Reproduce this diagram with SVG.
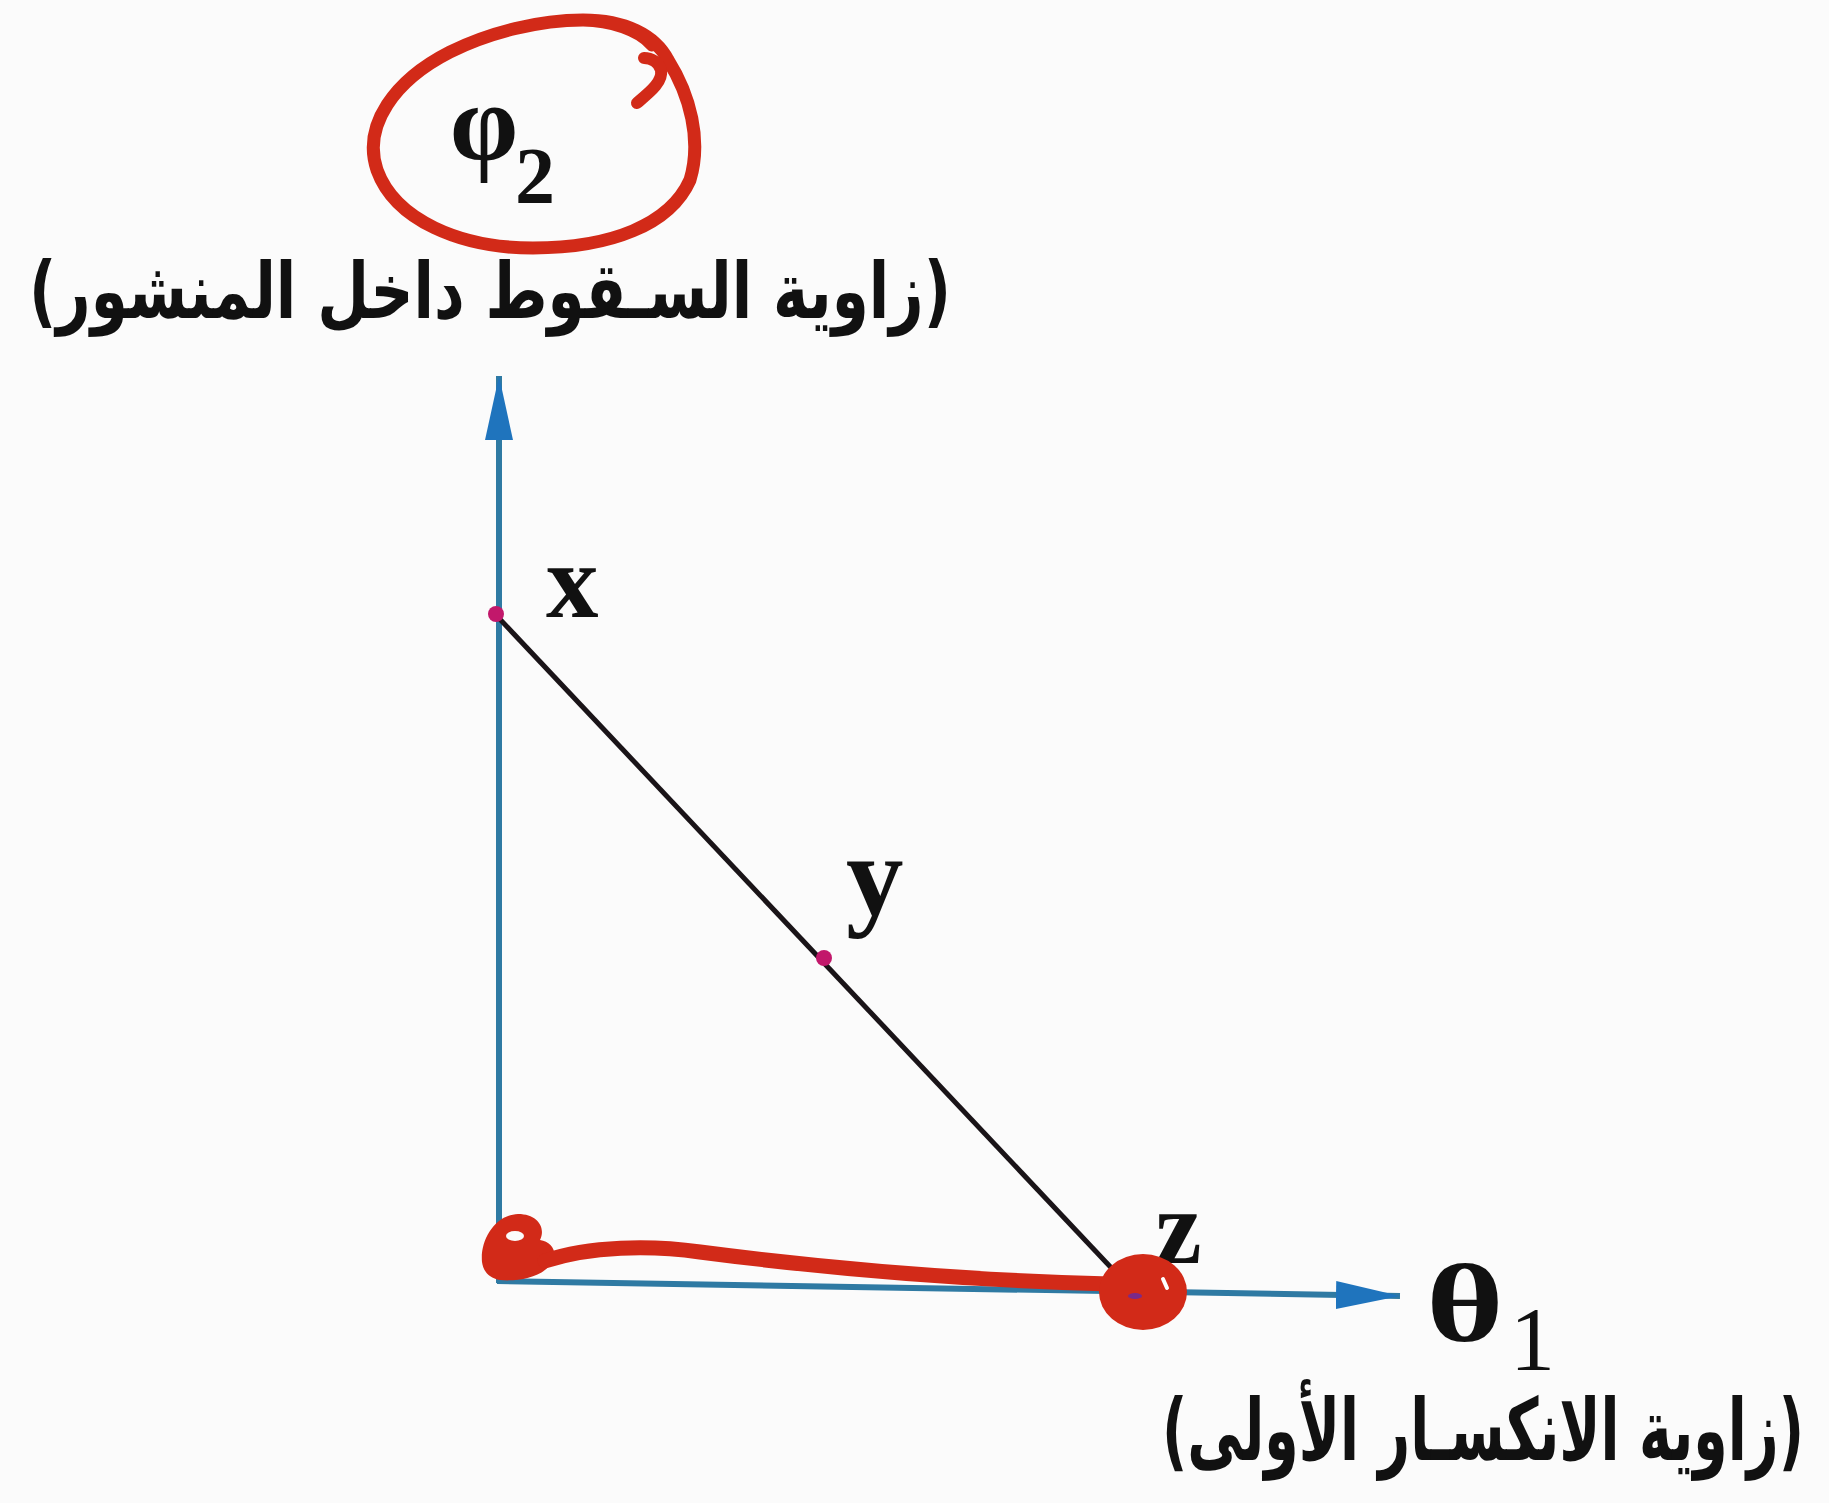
<svg xmlns="http://www.w3.org/2000/svg" width="1829" height="1503" viewBox="0 0 1829 1503">
<style>
.axis{stroke:#2f7aa3;stroke-width:6;fill:none}
.seg{stroke:#1a1418;stroke-width:5;fill:none}
.pt{fill:#c2186b}
.lbl{font-family:"Liberation Serif","Times New Roman",serif;fill:#111}
.ar{font-family:"DejaVu Sans",sans-serif;font-weight:bold;fill:#111}
.red{stroke:#d22a18;fill:none;stroke-linecap:round;stroke-linejoin:round}
.redf{fill:#d22a18}
</style>
<defs>
<marker id="arr" markerUnits="userSpaceOnUse" markerWidth="66" markerHeight="30" refX="64" refY="15" orient="auto">
<path d="M0,1 L64,15 L0,29 Z" fill="#1f74bd"/>
</marker>
</defs>
<rect width="1829" height="1503" fill="#fbfbfb"/>
<g id="connectors">
<line class="axis" x1="499" y1="1283" x2="499" y2="376" marker-end="url(#arr)"/>
<line class="axis" x1="497" y1="1281" x2="1400" y2="1296" marker-end="url(#arr)"/>
<line class="seg" x1="496" y1="615" x2="1135" y2="1293"/>
</g>
<g id="node-x">
<circle class="pt" cx="496" cy="614" r="8"/>
<text class="lbl" x="546" y="617" font-size="105" font-weight="bold">x</text>
</g>
<g id="node-y">
<circle class="pt" cx="824" cy="958" r="8"/>
<text class="lbl" x="846" y="915" font-size="115" font-weight="bold">y</text>
</g>
<g id="node-z">
<circle class="pt" cx="1135" cy="1294" r="7"/>
<text class="lbl" x="1155" y="1263" font-size="105" font-weight="bold">z</text>
</g>
<g id="label-phi">
<text class="lbl" x="484" y="160" font-size="110" font-weight="bold" text-anchor="middle">φ</text>
<text class="lbl" x="515" y="203" font-size="80" font-weight="bold">2</text>
<text class="ar" x="29" y="318" font-size="78" textLength="922" lengthAdjust="spacingAndGlyphs">(زاوية السـقوط داخل المنشور)</text>
</g>
<g id="label-theta">
<text class="lbl" x="1426" y="1341" font-size="110" font-weight="bold" textLength="78" lengthAdjust="spacingAndGlyphs">θ</text>
<text class="lbl" x="1510" y="1370" font-size="90">1</text>
<text class="ar" x="1804" y="1460" font-size="86" text-anchor="end" textLength="642" lengthAdjust="spacingAndGlyphs">(زاوية الانكسـار الأولى)</text>
</g>
<g id="annotations">
<path class="red" stroke-width="13" d="M583,20 C625,20 655,35 668,60 C690,95 702,140 690,180 C670,225 610,248 533,248 C460,248 395,220 377,170 C362,125 395,80 450,52 C490,32 540,20 583,20 C610,20 640,30 652,45"/>
<path class="red" stroke-width="12" d="M637,103 C650,92 663,82 661,70 C659,62 651,58 644,58"/>
<path class="redf" d="M482,1262 C480,1240 495,1215 518,1214 C538,1214 546,1228 540,1240 C552,1242 558,1252 552,1262 C545,1276 520,1282 500,1280 C488,1278 483,1270 482,1262 Z"/>
<ellipse cx="515" cy="1236" rx="9" ry="5" fill="#fbfbfb"/>
<path class="red" stroke-width="15" d="M545,1261 C590,1246 650,1245 700,1252 C800,1265 950,1280 1110,1284"/>
<ellipse class="redf" cx="1143" cy="1292" rx="44" ry="38"/>
<line x1="1163" y1="1279" x2="1167" y2="1288" stroke="#ffffff" stroke-width="4" stroke-linecap="round"/>
<ellipse cx="1135" cy="1296" rx="7" ry="3" fill="#7a2a8a"/>
</g>
</svg>
